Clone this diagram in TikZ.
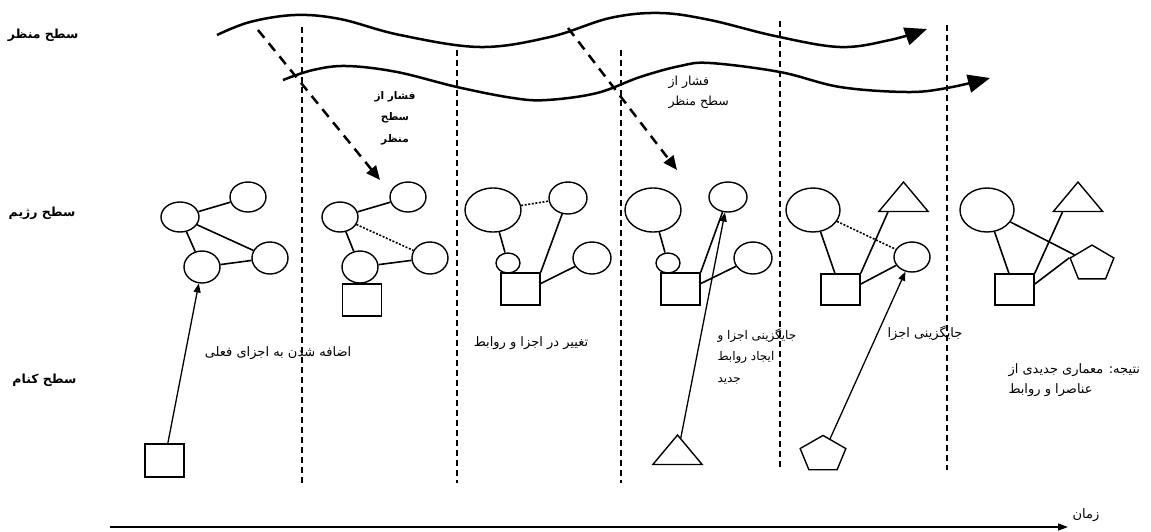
\documentclass[tikz,border=0pt]{standalone}
\usepackage{fontspec}
\usetikzlibrary{arrows.meta}
\usetikzlibrary{shapes.geometric}
\usetikzlibrary{calc}
\newfontfamily\fafont[Script=Arabic]{DejaVu Sans}
\TeXXeTstate=1
\newcommand{\fa}[1]{\beginR #1\endR}

\begin{document}
\begin{tikzpicture}[x=1pt,y=-1pt,
	every node/.style={black,font=\fafont\fontsize{13}{16}\selectfont},
	lvl/.style={anchor=east,font=\fafont\bfseries\fontsize{12.5}{15}\selectfont},
	part/.style={draw,ellipse,inner sep=0pt,line width=1.4pt},
	box/.style={draw,rectangle,inner sep=0pt,line width=1.4pt,minimum width=39pt,minimum height=32pt},
	tri/.style={draw,regular polygon,regular polygon sides=3,inner sep=0pt,line width=1.4pt,minimum size=57pt,yscale=0.69,transform shape},
	penta/.style={draw,regular polygon,regular polygon sides=5,inner sep=0pt,line width=1.4pt,minimum size=48pt,yscale=0.79,transform shape},
	link/.style={line width=1.6pt},
	weak/.style={line width=1.6pt,dash pattern=on 2pt off 1.6pt},
	era/.style={line width=1.6pt,dash pattern=on 6pt off 4pt},
	wave/.style={line width=2.5pt,-{Triangle[length=22pt,width=18pt]}},
	push/.style={line width=2.5pt,dash pattern=on 10pt off 7pt,-{Triangle[length=14pt,width=12pt]}},
	move/.style={line width=1.3pt,-{Triangle[length=9pt,width=7pt]}}
]
	\useasboundingbox (0,0) rectangle (1151,531);

	% levels
	\node[lvl] (lland) at (82,35) {\fa{سطح منظر}};
	\node[lvl] (lregime) at (79,213) {\fa{سطح رژیم}};
	\node[lvl] (lniche) at (80,380) {\fa{سطح کنام}};

	% time periods
	\draw[era] (302,27) -- (302,483);
	\draw[era] (457,50) -- (457,483);
	\draw[era] (621,50) -- (621,483);
	\draw[era] (780,21) -- (780,470);
	\draw[era] (947,25) -- (947,470);

	% landscape waves
	\draw[wave] plot[smooth,tension=0.6] coordinates {(217,35) (250,22) (295,15) (340,19) (400,35) (480,47) (550,37) (610,18) (660,13) (710,20) (775,36) (840,47) (890,40) (927,29)};
	\draw[wave] plot[smooth,tension=0.6] coordinates {(283,80) (313,70) (347,66) (397,72) (457,87) (513,98) (547,100) (597,93) (640,77) (680,66) (710,63) (780,72) (840,87) (907,92) (947,88) (990,78)};

	\coordinate (f1s) at (258,30);
	\coordinate (f1e) at (380,180);
	\coordinate (f2s) at (568,28);
	\coordinate (f2e) at (677,170);
	\draw[push] (f1s) -- (f1e);
	\draw[push] (f2s) -- (f2e);
	\node[align=center,font=\fafont\bfseries\fontsize{10.5}{21.5}\selectfont] (p1) at (395,118) {\fa{فشار از}\\\fa{سطح}\\\fa{منظر}};
	\node[anchor=west,align=left,font=\fafont\fontsize{12.5}{20}\selectfont] (p2) at (665,92) {\fa{فشار از}\\\fa{سطح منظر}};

	% regime 1
	\node[part,minimum width=38pt,minimum height=30pt] (r1a) at (180,217) {};
	\node[part,minimum width=36pt,minimum height=30pt] (r1b) at (248,197) {};
	\node[part,minimum width=36pt,minimum height=32pt] (r1c) at (270,258) {};
	\node[part,minimum width=36pt,minimum height=32pt] (r1d) at (202,267) {};
	\draw[link] (r1a) -- (r1b);
	\draw[link] (r1a) -- (r1c);
	\draw[link] (r1a) -- (r1d);
	\draw[link] (r1d) -- (r1c);

	% regime 2
	\node[part,minimum width=36pt,minimum height=30pt] (r2a) at (340,217) {};
	\node[part,minimum width=36pt,minimum height=30pt] (r2b) at (408,197) {};
	\node[part,minimum width=36pt,minimum height=32pt] (r2c) at (430,258) {};
	\node[part,minimum width=36pt,minimum height=32pt] (r2d) at (360,267) {};
	\node[box] (r2e) at (362,300) {};
	\draw[link] (r2a) -- (r2b);
	\draw[weak] (r2a) -- (r2c);
	\draw[link] (r2a) -- (r2d);
	\draw[link] (r2d) -- (r2c);

	% regime 3
	\node[part,minimum width=56pt,minimum height=44pt] (r3a) at (493,210) {};
	\node[part,minimum width=38pt,minimum height=32pt] (r3b) at (568,198) {};
	\node[part,minimum width=24pt,minimum height=20pt] (r3c) at (508,263) {};
	\node[part,minimum width=38pt,minimum height=32pt] (r3d) at (592,258) {};
	\node[box] (r3e) at (520.5,289) {};
	\draw[weak] (r3a) -- (r3b);
	\draw[link] (r3a) -- (r3c);
	\draw[link] (r3e.north east) -- (r3b);
	\draw[link] (r3e.15) -- (r3d);

	% regime 4
	\node[part,minimum width=56pt,minimum height=44pt] (r4a) at (653,210) {};
	\node[part,minimum width=38pt,minimum height=30pt] (r4b) at (728,197) {};
	\node[part,minimum width=24pt,minimum height=20pt] (r4c) at (668,263) {};
	\node[part,minimum width=38pt,minimum height=32pt] (r4d) at (753,258) {};
	\node[box] (r4e) at (680.5,289) {};
	\draw[link] (r4a) -- (r4c);
	\draw[link] (r4e.north east) -- (r4b);
	\draw[link] (r4e.15) -- (r4d);

	% regime 5
	\node[part,minimum width=54pt,minimum height=44pt] (r5a) at (813,210) {};
	\node[tri] (r5b) at (903.5,201.7) {};
	\node[part,minimum width=36pt,minimum height=30pt] (r5c) at (912,257) {};
	\node[box,minimum height=31pt] (r5d) at (840.5,289.5) {};
	\draw[link] (r5a) -- (r5d);
	\draw[weak] (r5a) -- (r5c);
	\draw[link] (r5d.north east) -- ($(r5b.corner 2)!.2!(r5b.corner 3)$);
	\draw[link] (r5d.15) -- (r5c);

	% regime 6
	\node[part,minimum width=54pt,minimum height=44pt] (r6a) at (987,210) {};
	\node[tri] (r6b) at (1078,201.7) {};
	\node[penta,minimum size=46pt,yscale=1.03] (r6c) at (1092,263.8) {};
	\node[box,minimum height=31pt] (r6d) at (1014.5,289.5) {};
	\draw[link] (r6a) -- (r6d);
	\draw[link] (r6a) -- (r6c);
	\draw[link] (r6d.north east) -- ($(r6b.corner 2)!.2!(r6b.corner 3)$);
	\draw[link] (r6d.15) -- (r6c.corner 2);

	% niche
	\node[box,minimum height=33pt] (k1) at (164.5,460.5) {};
	\node[tri] (k4) at (677.5,454.7) {};
	\node[penta] (k5) at (823,454.4) {};
	\draw[move] (k1) -- (r1d);
	\draw[move] (k4) -- (r4b);
	\draw[move] (k5) -- (r5c);

	\node (t1) at (278,353) {\fa{اضافه شدن به اجزای فعلی}};
	\node (t2) at (531,343) {\fa{تغییر در اجزا و روابط}};
	\node[anchor=west,align=left,font=\fafont\fontsize{12}{21.5}\selectfont] (t3) at (714,356) {\fa{جایگزینی اجزا و}\\\fa{ایجاد روابط}\\\fa{جدید}};
	\node (t4) at (925,333) {\fa{جایگزینی اجزا}};
	\node[anchor=west,align=left,font=\fafont\fontsize{13}{20}\selectfont] (t5) at (1005,380) {\fa{نتیجه: معماری جدیدی از}\\\fa{عناصرا و روابط}};

	% time
	\coordinate (tstart) at (110,527);
	\coordinate (tend) at (1068,527);
	\draw[line width=1.5pt,-{Triangle[length=10pt,width=7pt]}] (tstart) -- (tend);
	\node (ttime) at (1086,515) {\fa{زمان}};
\end{tikzpicture}
\end{document}
